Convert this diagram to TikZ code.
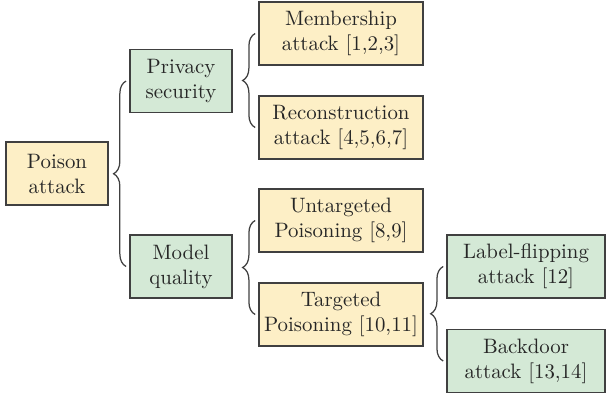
\documentclass[tikz,border=0pt]{standalone}
\usepackage{tikz}
\usepackage{xcolor}
\usetikzlibrary{decorations.pathreplacing,calc}
\definecolor{attackfill}{RGB}{253,239,198}
\definecolor{groupfill}{RGB}{212,233,214}
\definecolor{edgegray}{RGB}{64,64,64}

\begin{document}
\begin{tikzpicture}[
    x=0.48pt, y=-0.48pt,
    box/.style={rectangle, draw=edgegray, line width=0.7pt, align=center, inner sep=0pt, minimum height=30.2pt, text=black!85},
    attackbox/.style={box, fill=attackfill},
    groupbox/.style={box, fill=groupfill},
    brace/.style={decorate, decoration={brace, amplitude=6pt}, draw=edgegray, line width=0.6pt},
]
\useasboundingbox (0,0) rectangle (606,396);

% Root
\node[attackbox, minimum width=49pt] (poison) at (57,173.5) {Poison\\attack};

% Second level
\node[groupbox, minimum width=49pt] (privacy) at (181,81) {Privacy\\security};
\node[groupbox, minimum width=49pt] (model) at (181,266.5) {Model\\quality};

% Third level
\node[attackbox, minimum width=78.7pt] (member) at (341,33.5) {Membership\\attack [1,2,3]};
\node[attackbox, minimum width=78.7pt] (recon) at (341,127.5) {Reconstruction\\attack [4,5,6,7]};
\node[attackbox, minimum width=78.7pt] (untarget) at (341,220.5) {Untargeted\\Poisoning [8,9]};
\node[attackbox, minimum width=78.7pt] (target) at (341,314.5) {Targeted\\Poisoning [10,11]};

% Fourth level
\node[groupbox, minimum width=75.8pt] (labelflip) at (526,266.5) {Label-flipping\\attack [12]};
\node[groupbox, minimum width=75.8pt] (backdoor) at (526,361) {Backdoor\\attack [13,14]};

% Braces
\draw[brace] ([xshift=-1.5pt]model.west) -- ([xshift=-1.5pt]privacy.west);
\draw[brace] ([xshift=-1.5pt]recon.west) -- ([xshift=-1.5pt]member.west);
\draw[brace] ([xshift=-1.5pt]target.west) -- ([xshift=-1.5pt]untarget.west);
\draw[brace] ([xshift=-1.5pt]backdoor.west) -- ([xshift=-1.5pt]labelflip.west);

\end{tikzpicture}
\end{document}
